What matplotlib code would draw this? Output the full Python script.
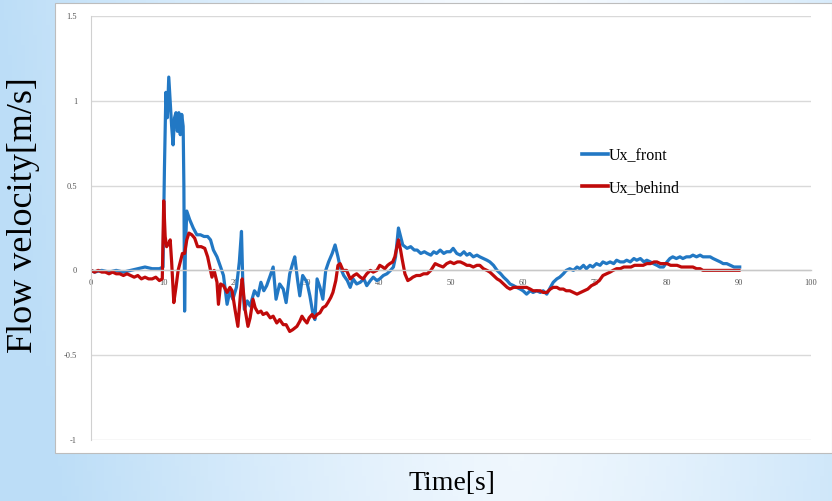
import numpy as np
import matplotlib
matplotlib.use("Agg")
import matplotlib.pyplot as plt
from matplotlib.patches import Rectangle

# flow velocity measured in front of / behind the model
t_front = [0, 0.5, 1.5, 2.5, 3.5, 4.5, 5.5, 6.5, 7.5, 8.5, 9.5, 10.0, 10.2, 10.4, 10.6, 10.8,
           11.0, 11.2, 11.4, 11.6, 11.8, 12.0, 12.2, 12.4, 12.6, 12.8, 12.9, 13.0, 13.1, 13.3,
           13.7, 14.2, 14.7, 15.2, 15.7, 16.2, 16.6, 17.0, 17.5, 18.0, 18.4, 18.9, 19.3, 19.7,
           20.2, 20.6, 20.9, 21.1, 21.3, 21.7, 22.1, 22.7, 23.2, 23.6, 24.0, 24.4, 24.9, 25.3,
           25.7, 26.2, 26.7, 27.1, 27.6, 28.0, 28.3, 28.7, 29.0, 29.4, 30.0, 30.4, 30.8, 31.1,
           31.4, 31.8, 32.2, 32.6, 33.0, 33.5, 33.9, 34.3, 34.6, 35.1, 35.6, 36.0, 36.4, 36.9,
           37.4, 37.9, 38.3, 38.8, 39.2, 39.7, 40.1, 40.6, 41.1, 41.6, 42.0, 42.3, 42.7, 43.0,
           43.3, 43.9, 44.4, 44.9, 45.3, 45.8, 46.3, 46.7, 47.2, 47.6, 48.0, 48.5, 49.0, 49.4,
           49.9, 50.3, 50.8, 51.3, 51.8, 52.2, 52.6, 53.1, 53.6, 54.0, 54.5, 55.0, 55.4, 55.9,
           56.4, 56.9, 57.3, 57.8, 58.2, 58.7, 59.1, 59.6, 60.0, 60.5, 61.0, 61.4, 61.9, 62.4,
           62.8, 63.3, 63.8, 64.2, 64.7, 65.1, 65.6, 66.0, 66.5, 67.0, 67.5, 67.9, 68.4, 68.8,
           69.3, 69.7, 70.2, 70.7, 71.1, 71.6, 72.1, 72.6, 73.0, 73.5, 74.0, 74.4, 74.9, 75.4,
           75.8, 76.3, 76.8, 77.2, 77.7, 78.1, 78.6, 79.0, 79.5, 80.0, 80.4, 80.8, 81.3, 81.8,
           82.2, 82.7, 83.2, 83.6, 84.1, 84.6, 85.0, 85.5, 86.0, 86.4, 86.9, 87.4, 87.8, 88.3,
           88.8, 89.3, 89.8, 90.1]
ux_front = [0.0, -0.01, 0.0, -0.01, 0.0, -0.01, 0.0, 0.01, 0.02, 0.01, 0.01, 0.02, 0.6, 1.05, 0.9, 1.14,
            1.0, 0.85, 0.74, 0.9, 0.93, 0.82, 0.93, 0.8, 0.92, 0.85, 0.5, -0.24, 0.1, 0.35,
            0.3, 0.25, 0.21, 0.21, 0.2, 0.2, 0.18, 0.12, 0.08, 0.02, -0.03, -0.2, -0.12, -0.17,
            -0.1, 0.05, 0.23, -0.1, -0.23, -0.18, -0.21, -0.12, -0.15, -0.07, -0.12, -0.09, -0.03, 0.02,
            -0.17, -0.08, -0.11, -0.19, -0.02, 0.04, 0.08, -0.06, -0.15, -0.03, -0.07, -0.15, -0.25, -0.29,
            -0.05, -0.1, -0.17, 0.0, 0.05, 0.1, 0.15, 0.08, 0.02, -0.03, -0.06, -0.1, -0.05, -0.08,
            -0.07, -0.05, -0.09, -0.06, -0.04, -0.06, -0.05, -0.03, -0.02, 0.0, 0.02, 0.08, 0.25, 0.2,
            0.15, 0.13, 0.14, 0.12, 0.12, 0.1, 0.11, 0.1, 0.09, 0.11, 0.1, 0.12, 0.1, 0.11,
            0.11, 0.13, 0.1, 0.09, 0.11, 0.09, 0.1, 0.08, 0.09, 0.08, 0.07, 0.06, 0.05, 0.03,
            0.0, -0.02, -0.04, -0.06, -0.08, -0.09, -0.1, -0.11, -0.12, -0.14, -0.12, -0.13, -0.12, -0.13,
            -0.12, -0.14, -0.1, -0.07, -0.05, -0.04, -0.02, 0.0, 0.01, 0.0, 0.02, 0.01, 0.03, 0.01,
            0.03, 0.02, 0.04, 0.03, 0.05, 0.04, 0.05, 0.04, 0.06, 0.05, 0.05, 0.06, 0.05, 0.07,
            0.06, 0.07, 0.05, 0.06, 0.05, 0.04, 0.03, 0.02, 0.02, 0.05, 0.07, 0.08, 0.07, 0.08,
            0.07, 0.08, 0.08, 0.09, 0.08, 0.09, 0.08, 0.08, 0.08, 0.07, 0.06, 0.05, 0.04, 0.04,
            0.03, 0.02, 0.02, 0.02]

t_behind = [0, 0.5, 1.0, 1.5, 2.0, 2.5, 3.0, 3.5, 4.0, 4.5, 5.0, 5.5, 6.0, 6.5, 7.0, 7.5, 8.0, 8.5,
            9.0, 9.5, 9.9, 10.1, 10.3, 10.5, 10.8, 11.0, 11.2, 11.5, 11.8, 12.1, 12.4, 12.7, 13.0,
            13.3, 13.6, 14.0, 14.4, 14.8, 15.3, 15.8, 16.2, 16.5, 16.8, 17.1, 17.5, 17.7, 18.0,
            18.4, 18.9, 19.3, 19.6, 20.0, 20.4, 20.8, 21.0, 21.4, 21.8, 22.1, 22.5, 22.8, 23.2,
            23.6, 23.9, 24.4, 24.9, 25.3, 25.8, 26.2, 26.7, 27.1, 27.6, 28.0, 28.6, 29.0, 29.3,
            29.6, 30.0, 30.3, 30.7, 31.0, 31.4, 31.8, 32.2, 32.6, 32.9, 33.3, 33.6, 34.0, 34.3,
            34.6, 35.0, 35.5, 36.0, 36.5, 36.9, 37.4, 37.8, 38.3, 38.8, 39.2, 39.7, 40.1, 40.5,
            40.8, 41.2, 41.5, 41.9, 42.2, 42.7, 43.0, 43.2, 43.6, 44.0, 44.4, 44.7, 45.2, 45.7,
            46.2, 46.7, 47.2, 47.8, 48.3, 48.9, 49.4, 49.9, 50.4, 50.9, 51.3, 51.8, 52.2, 52.6,
            53.1, 53.6, 54.0, 54.5, 55.0, 55.4, 55.9, 56.4, 56.8, 57.3, 57.8, 58.2, 58.7, 59.1,
            59.6, 60.0, 60.5, 61.0, 61.4, 61.9, 62.4, 62.8, 63.3, 63.8, 64.2, 64.7, 65.1, 65.6,
            66.0, 66.5, 67.0, 67.5, 68.0, 68.5, 69.0, 69.5, 70.0, 70.6, 71.1, 71.6, 72.1, 72.5,
            73.0, 73.5, 74.0, 74.4, 75.0, 75.5, 76.0, 76.7, 77.2, 77.7, 78.2, 78.6, 79.1, 79.6,
            80.0, 80.5, 81.0, 81.4, 82.0, 82.5, 83.0, 83.6, 84.1, 84.6, 85.0, 86.0, 87.0, 88.0,
            89.0, 90.0]
ux_behind = [0.0, -0.01, 0.0, -0.01, -0.01, -0.02, -0.01, -0.02, -0.02, -0.03, -0.02, -0.03, -0.04, -0.03, -0.05, -0.04, -0.05, -0.05,
             -0.04, -0.06, -0.05, 0.41, 0.2, 0.14, 0.16, 0.18, 0.05, -0.19, -0.1, 0.0, 0.05, 0.1, 0.1,
             0.18, 0.22, 0.21, 0.19, 0.14, 0.14, 0.13, 0.08, 0.02, -0.04, 0.0, -0.07, -0.2, -0.08,
             -0.09, -0.13, -0.1, -0.12, -0.23, -0.33, -0.12, -0.05, -0.23, -0.33, -0.28, -0.17, -0.22, -0.25,
             -0.24, -0.26, -0.25, -0.28, -0.27, -0.31, -0.29, -0.32, -0.32, -0.36, -0.35, -0.33, -0.3, -0.27,
             -0.29, -0.31, -0.28, -0.26, -0.28, -0.26, -0.25, -0.22, -0.21, -0.19, -0.16, -0.13, -0.06, 0.03,
             0.04, 0.0, 0.0, -0.05, -0.03, -0.02, -0.04, -0.05, -0.02, 0.0, -0.01, 0.0, 0.03, 0.02,
             0.01, 0.03, 0.04, 0.05, 0.08, 0.18, 0.12, 0.07, -0.02, -0.06, -0.05, -0.04, -0.03, -0.03,
             -0.02, -0.02, 0.0, 0.04, 0.03, 0.02, 0.04, 0.05, 0.04, 0.05, 0.05, 0.04, 0.03, 0.03,
             0.02, 0.03, 0.03, 0.01, 0.0, -0.01, -0.03, -0.05, -0.06, -0.08, -0.1, -0.11, -0.1, -0.1,
             -0.1, -0.1, -0.1, -0.11, -0.12, -0.12, -0.12, -0.13, -0.13, -0.11, -0.1, -0.1, -0.11, -0.11,
             -0.12, -0.12, -0.13, -0.14, -0.13, -0.12, -0.11, -0.09, -0.08, -0.06, -0.03, -0.02, -0.01, 0.0,
             0.01, 0.01, 0.02, 0.02, 0.02, 0.03, 0.03, 0.03, 0.04, 0.04, 0.05, 0.05, 0.04, 0.04,
             0.04, 0.03, 0.03, 0.03, 0.02, 0.02, 0.02, 0.02, 0.01, 0.01, 0.0, 0.0, 0.0, 0.0,
             0.0, 0.0]

x_ticks = [0, 10, 20, 30, 40, 50, 60, 70, 80, 90, 100]
y_ticks = [-1, -0.5, 0, 0.5, 1, 1.5]
y_tick_labels = ["-1", "-0.5", "0", "0.5", "1", "1.5"]

W, H = 832, 501
fig = plt.figure(figsize=(W / 100, H / 100), dpi=100)

# pale blue slide background, fading to white towards the middle
bg = fig.add_axes([0, 0, 1, 1], zorder=-10)
gx, gy = np.meshgrid(np.linspace(0, 1, 200), np.linspace(0, 1, 100))
w = np.clip(np.abs(gx - 0.62) / 0.62, 0, 1) ** 1.3
w = np.clip(w + 0.15 * gy, 0, 1)
blue = np.array([0.74, 0.87, 0.97])
white = np.array([0.97, 0.985, 1.0])
img = white[None, None, :] * (1 - w[..., None]) + blue[None, None, :] * w[..., None]
bg.imshow(img, aspect="auto", extent=[0, 1, 0, 1], origin="upper")
bg.axis("off")

# white chart area
fig.patches.append(Rectangle((55 / W, 1 - 453 / H), (W - 55) / W, 450 / H,
                             transform=fig.transFigure, facecolor="white",
                             edgecolor="#bdbdbd", linewidth=0.8, zorder=-5))

ax = fig.add_axes([91 / W, 1 - 440 / H, 720 / W, 424 / H])
ax.set_facecolor("none")
ax.plot(t_front, ux_front, color="#2278c4", linewidth=2.3, label="Ux_front")
ax.plot(t_behind, ux_behind, color="#c00a0a", linewidth=2.3, label="Ux_behind")

ax.set_xlim(0, 100)
ax.set_ylim(-1, 1.5)
ax.set_xticks(x_ticks)
ax.set_yticks(y_ticks)
ax.set_yticklabels(y_tick_labels)
ax.yaxis.grid(True, color="#d9d9d9", linewidth=1.0)
ax.set_axisbelow(True)

for s in ["top", "right"]:
    ax.spines[s].set_visible(False)
ax.spines["left"].set_color("#d0d0d0")
ax.spines["bottom"].set_position(("data", 0))
ax.spines["bottom"].set_color("#c8c8c8")
ax.spines["bottom"].set_linewidth(1.0)
ax.tick_params(axis="both", length=0, labelsize=6, labelcolor="#555555")
ax.tick_params(axis="x", pad=6)
ax.tick_params(axis="y", pad=10)
for lab in ax.get_xticklabels() + ax.get_yticklabels():
    lab.set_fontfamily("Liberation Serif")

leg = ax.legend(loc="upper left", bbox_to_anchor=(582 / W, 1 - 148 / H),
                bbox_transform=fig.transFigure, frameon=False,
                prop={"family": "Liberation Serif", "size": 11.5},
                handlelength=1.6, handletextpad=0.1, labelspacing=1.0,
                borderaxespad=0, borderpad=0)
for line in leg.get_lines():
    line.set_linewidth(2.6)

fig.text(24 / W, 1 - 215 / H, "Flow velocity[m/s]", rotation=90, ha="center", va="center",
         fontsize=26, family="Liberation Serif")
fig.text(452 / W, 1 - 483 / H, "Time[s]", ha="center", va="center",
         fontsize=20, family="Liberation Serif")

fig.savefig("out.png", dpi=100)
